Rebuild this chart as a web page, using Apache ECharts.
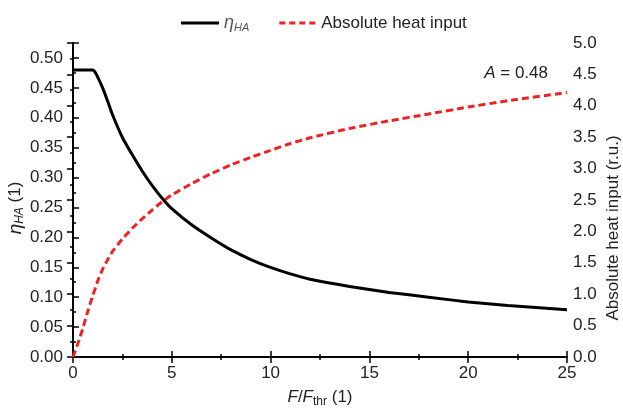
<!DOCTYPE html>
<html>
<head>
<meta charset="utf-8">
<script src="https://cdn.jsdelivr.net/npm/echarts@6/dist/echarts.min.js"></script>
<style>
    html, body { margin: 0; padding: 0; background: #fff; }
    #chart { width: 623px; height: 412px; }
</style>
</head>
<body>
<div id="chart"></div>
<script>
// F/Fthr values and the two curves
const fluence = [0, 0.25, 0.5, 0.75, 1, 1.1, 1.25, 1.5, 1.75, 2, 2.5, 3, 3.5, 4, 4.5, 5, 6, 7, 8, 9, 10, 11, 12, 14, 16, 18, 20, 22, 25];
const etaHA = [0.48, 0.48, 0.48, 0.48, 0.48, 0.477, 0.468, 0.450, 0.428, 0.405, 0.367, 0.338, 0.311, 0.287, 0.266, 0.248, 0.221, 0.199, 0.179, 0.163, 0.150, 0.139, 0.130, 0.118, 0.108, 0.100, 0.092, 0.086, 0.079];
const heatInput = [0, 0.22, 0.46, 0.73, 0.98, 1.07, 1.21, 1.40, 1.55, 1.68, 1.88, 2.05, 2.2, 2.34, 2.47, 2.58, 2.76, 2.92, 3.06, 3.18, 3.29, 3.40, 3.49, 3.64, 3.76, 3.87, 3.98, 4.08, 4.21];

const font = 'Liberation Sans, Arial, sans-serif';
const txt = '#222';
const red = '#ee2222';

const chart = echarts.init(document.getElementById('chart'));

// 坐标轴公共样式
const tickStyle = {
    axisLine: { show: true, lineStyle: { color: '#000', width: 2 } },
    axisTick: { show: true, inside: true, length: 6, lineStyle: { color: '#000', width: 1.5 } },
    minorTick: { show: true, splitNumber: 2, length: 3, lineStyle: { color: '#000', width: 1.5 } },
    splitLine: { show: false },
    nameMoveOverlap: false
};

chart.setOption({
    animation: false,
    textStyle: { fontFamily: font },
    grid: { left: 73, right: 56, top: 43, bottom: 55, containLabel: false, outerBoundsMode: 'none' },
    legend: {
        top: 9,
        left: 176,
        itemWidth: 38,
        itemHeight: 3,
        itemGap: 30,
        textStyle: {
            fontSize: 17, color: txt, fontFamily: font,
            rich: {
                e: { fontSize: 18, fontStyle: 'italic', color: '#555', fontFamily: font },
                s: { fontSize: 11, fontStyle: 'italic', color: '#555', verticalAlign: 'bottom', padding: [9, 0, 0, 0], fontFamily: font }
            }
        },
        formatter: function (name) {
            return name === 'eta' ? '{e|η}{s|HA}' : name;
        },
        data: [
            { name: 'eta', icon: 'path://M0,0H38V3H0Z' },
            { name: 'Absolute heat input', icon: 'path://M0,0H6V3H0Z M10,0H16V3H10Z M20,0H26V3H20Z M30,0H36V3H30Z' }
        ]
    },
    title: {
        text: '{i|A} = 0.48',
        right: 70,
        top: 60,
        textStyle: {
            fontSize: 17, fontWeight: 'normal', color: txt, fontFamily: font,
            rich: { i: { fontSize: 17, fontStyle: 'italic', color: txt, fontFamily: font } }
        }
    },
    xAxis: [
        Object.assign({
            type: 'value', min: 0, max: 25, interval: 5, position: 'bottom',
            name: '{i|F}/{i|F}{s|thr} (1)',
            nameLocation: 'middle', nameGap: 30,
            nameTextStyle: {
                fontSize: 17, color: txt, fontFamily: font,
                rich: {
                    i: { fontSize: 17, fontStyle: 'italic', color: txt, fontFamily: font },
                    s: { fontSize: 12, color: txt, verticalAlign: 'bottom', padding: [9, 0, 0, 0], fontFamily: font }
                }
            },
            axisLabel: { fontSize: 17, color: txt, margin: 8 }
        }, tickStyle),
        Object.assign({
            type: 'value', min: 0, max: 25, interval: 5, position: 'top',
            axisLabel: { show: false }
        }, tickStyle)
    ],
    yAxis: [
        Object.assign({
            type: 'value', min: 0, max: 0.525, interval: 0.05, position: 'left',
            name: '{e|η}{s|HA} (1)',
            nameLocation: 'middle', nameGap: 47,
            nameTextStyle: {
                fontSize: 17, color: txt, fontFamily: font, padding: [0, 16, 0, 0],
                rich: {
                    e: { fontSize: 19, fontStyle: 'italic', color: txt, fontFamily: font },
                    s: { fontSize: 12, fontStyle: 'italic', color: txt, verticalAlign: 'bottom', padding: [9, 0, 0, 0], fontFamily: font }
                }
            },
            axisLabel: {
                fontSize: 17, color: txt, margin: 10, showMaxLabel: false,
                formatter: function (v) { return v.toFixed(2); }
            }
        }, tickStyle),
        Object.assign({
            type: 'value', min: 0, max: 5, interval: 0.5, position: 'right',
            name: 'Absolute heat input (r.u.)',
            nameLocation: 'middle', nameGap: 38,
            nameTextStyle: { fontSize: 17, color: txt, fontFamily: font, padding: [0, 56, 0, 0] },
            axisLabel: {
                fontSize: 17, color: txt, margin: 6,
                formatter: function (v) { return v.toFixed(1); }
            }
        }, tickStyle)
    ],
    series: [
        {
            name: 'eta',
            type: 'line',
            xAxisIndex: 0,
            yAxisIndex: 0,
            data: fluence.map((f, i) => [f, etaHA[i]]),
            showSymbol: false,
            symbol: 'none',
            smooth: 0.2,
            lineStyle: { color: '#000', width: 3 },
            itemStyle: { color: '#000' }
        },
        {
            name: 'Absolute heat input',
            type: 'line',
            xAxisIndex: 0,
            yAxisIndex: 1,
            data: fluence.map((f, i) => [f, heatInput[i]]),
            showSymbol: false,
            symbol: 'none',
            smooth: 0.2,
            lineStyle: { color: red, width: 3, type: [7, 4] },
            itemStyle: { color: red }
        }
    ]
});
</script>
</body>
</html>
